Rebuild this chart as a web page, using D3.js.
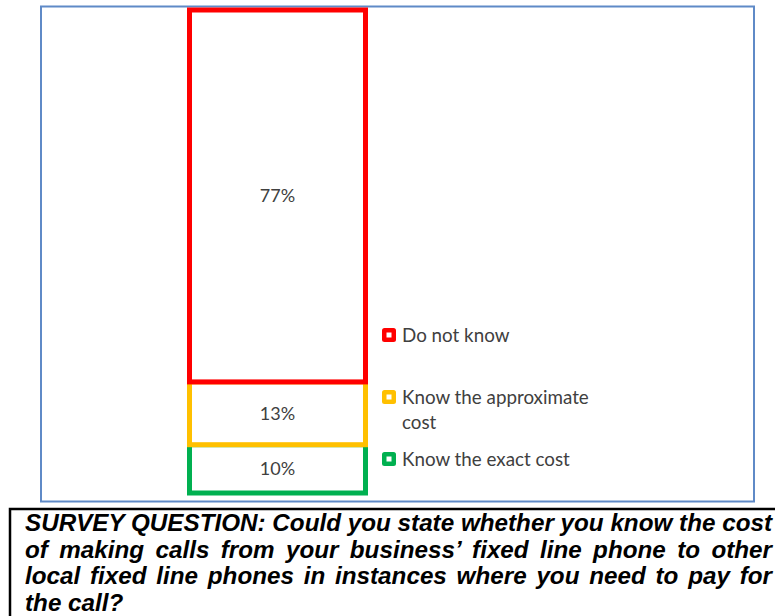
<!DOCTYPE html>
<html>
<head>
<meta charset="utf-8">
<script src="https://cdn.jsdelivr.net/npm/d3@7/dist/d3.min.js"></script>
<style>
  html, body { margin: 0; padding: 0; background: #fff; overflow: hidden; }
  #wrap { position: relative; width: 775px; height: 616px; overflow: hidden; }
  svg { position: absolute; left: 0; top: 0; }
  .qline {
    position: absolute; left: 25px; white-space: nowrap;
    font-family: "Liberation Sans", Arial, sans-serif;
    font-weight: bold; font-style: italic; font-size: 23.5px; line-height: 26.5px;
    color: #000; transform-origin: 0 0;
  }
</style>
</head>
<body>
<div id="wrap"></div>
<script>
// Survey answers, stacked bottom to top
const categories = ["Know the exact cost", "Know the approximate cost", "Do not know"];
const values = [10, 13, 77];
const colors = ["#00b050", "#ffc000", "#ff0000"];
const barGroup = ["Fixed line calls"];
const questionLines = [
  "SURVEY QUESTION: Could you state whether you know the cost",
  "of making calls from your business\u2019 fixed line phone to other",
  "local fixed line phones in instances where you need to pay for",
  "the call?"
];

const W = 775, H = 616;
const wrap = d3.select("#wrap");
const svg = wrap.append("svg").attr("width", W).attr("height", H);

// Chart frame
svg.append("rect")
  .attr("x", 41).attr("y", 6.5).attr("width", 713).attr("height", 495)
  .attr("fill", "#fff").attr("stroke", "#5f8ac7").attr("stroke-width", 2);

// Scales
const x = d3.scaleBand().domain(barGroup).range([145.5, 409.5])
  .paddingInner(0).paddingOuter(0.25);
const y = d3.scaleLinear().domain([0, 100]).range([493, 10]);

// Stack the segments
let acc = 0;
const segs = values.map((v, i) => {
  const s = { cat: categories[i], v, y0: acc, y1: acc + v, color: colors[i] };
  acc += v;
  return s;
});

const labelFont = "Lato, 'Open Sans', sans-serif";
const g = svg.append("g");
g.selectAll("rect.seg").data(segs).join("rect")
  .attr("class", "seg")
  .attr("x", x(barGroup[0]))
  .attr("width", x.bandwidth())
  .attr("y", d => y(d.y1))
  .attr("height", d => y(d.y0) - y(d.y1))
  .attr("fill", "#fff")
  .attr("stroke", d => d.color)
  .attr("stroke-width", 5);

g.selectAll("text.val").data(segs).join("text")
  .attr("class", "val")
  .attr("x", x(barGroup[0]) + x.bandwidth() / 2)
  .attr("y", d => y((d.y0 + d.y1) / 2))
  .attr("dy", "0.35em")
  .attr("text-anchor", "middle")
  .attr("font-family", labelFont)
  .attr("font-size", 18)
  .attr("fill", "#404040")
  .text(d => d.v + "%");

// Legend (top entry is the last series)
const legendItems = segs.slice().reverse();
const legendY = [335, 397, 459];
const legend = svg.append("g");
legendItems.forEach((d, i) => {
  const cy = legendY[i];
  legend.append("rect")
    .attr("x", 382).attr("y", cy - 7).attr("width", 14).attr("height", 14)
    .attr("rx", 2.5).attr("fill", d.color);
  legend.append("rect")
    .attr("x", 386.5).attr("y", cy - 2.5).attr("width", 5).attr("height", 5)
    .attr("fill", "#fff");
  const t = legend.append("text")
    .attr("x", 402).attr("y", cy)
    .attr("font-family", labelFont).attr("font-size", 18.8).attr("fill", "#404040");
  // wrap long entries onto extra lines
  const words = d.cat.split(" ");
  let line = [];
  let tspan = t.append("tspan").attr("x", 402).attr("dy", "0.35em");
  words.forEach(w => {
    line.push(w);
    tspan.text(line.join(" "));
    if (tspan.node().getComputedTextLength() > 205 && line.length > 1) {
      line.pop();
      tspan.text(line.join(" "));
      line = [w];
      tspan = t.append("tspan").attr("x", 402).attr("dy", "25px").text(w);
    }
  });
});

// Question box
svg.append("rect")
  .attr("x", 10).attr("y", 509).attr("width", 800).attr("height", 200)
  .attr("fill", "none").attr("stroke", "#000").attr("stroke-width", 2.5);

// Question text: condensed, justified lines
const boxW = 747;
const lines = wrap.selectAll("div.qline").data(questionLines).join("div")
  .attr("class", "qline")
  .style("top", (d, i) => (510 + i * 26.5) + "px")
  .text(d => d);
const natural = lines.nodes().map(n => n.getBoundingClientRect().width);
const scale = boxW / d3.max(natural);
lines.each(function(d, i) {
  const el = d3.select(this);
  const last = i === questionLines.length - 1;
  el.style("transform", `scaleX(${scale})`);
  if (!last) {
    const nWords = d.split(" ").length - 1;
    const extra = (boxW / scale - natural[i]) / nWords;
    el.style("word-spacing", extra + "px");
  }
});
</script>
</body>
</html>
